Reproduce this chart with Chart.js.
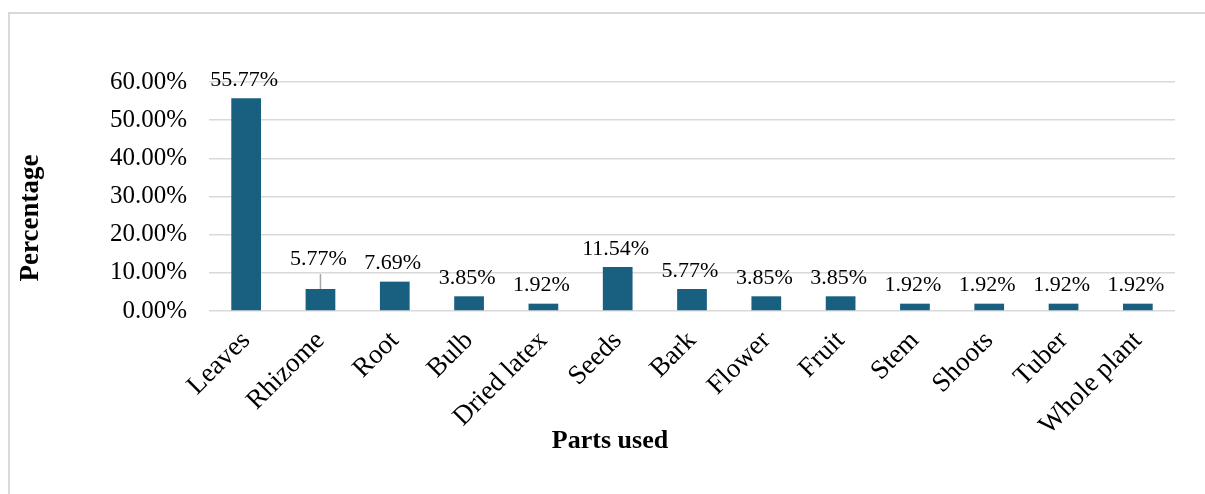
<!DOCTYPE html>
<html>
<head>
<meta charset="utf-8">
<script src="https://cdn.jsdelivr.net/npm/chart.js@4/dist/chart.umd.min.js"></script>
<style>
  html, body { margin: 0; padding: 0; background: #fff; overflow: hidden; }
  #wrap { position: relative; width: 1205px; height: 494px; }
</style>
</head>
<body>
<div id="wrap"><canvas id="chart" width="1205" height="494"></canvas></div>
<script>
const parts = ['Leaves', 'Rhizome', 'Root', 'Bulb', 'Dried latex', 'Seeds', 'Bark',
  'Flower', 'Fruit', 'Stem', 'Shoots', 'Tuber', 'Whole plant'];
const percentages = [55.77, 5.77, 7.69, 3.85, 1.92, 11.54, 5.77, 3.85, 3.85, 1.92, 1.92, 1.92, 1.92];
const yTicks = [0, 10, 20, 30, 40, 50, 60];

const serif = '"Liberation Serif", "Times New Roman", serif';
const barColor = '#185f80';
const gridColor = '#d9d9d9';

// data labels above bars, rhizome one lifted with a leader line (as in Excel)
const barLabels = {
  id: 'barLabels',
  afterDatasetsDraw(chart) {
    const ctx = chart.ctx;
    const meta = chart.getDatasetMeta(0);
    ctx.save();
    ctx.font = '22px ' + serif;
    ctx.fillStyle = '#000';
    ctx.textAlign = 'center';
    ctx.textBaseline = 'bottom';
    meta.data.forEach((bar, i) => {
      const txt = percentages[i].toFixed(2) + '%';
      let y = bar.y - 7;
      if (i === 1) {
        y = bar.y - 19;
        ctx.strokeStyle = '#a6a6a6';
        ctx.lineWidth = 1.5;
        ctx.beginPath();
        ctx.moveTo(bar.x, y + 4);
        ctx.lineTo(bar.x, bar.y);
        ctx.stroke();
      }
      ctx.fillText(txt, bar.x - 2, y);
    });
    ctx.restore();
  }
};

// outer frame + axis titles
const frame = {
  id: 'frame',
  beforeDraw(chart) {
    const ctx = chart.ctx;
    ctx.save();
    ctx.strokeStyle = '#d9d9d9';
    ctx.lineWidth = 2;
    ctx.strokeRect(9, 13, 1300, 600);
    ctx.restore();
  },
  afterDraw(chart) {
    const ctx = chart.ctx;
    ctx.save();
    ctx.fillStyle = '#000';
    ctx.textAlign = 'center';
    ctx.textBaseline = 'middle';
    ctx.font = 'bold 26px ' + serif;
    ctx.fillText('Parts used', 610, 441);
    ctx.translate(31, 218);
    ctx.rotate(-Math.PI / 2);
    ctx.font = 'bold 27px ' + serif;
    ctx.fillText('Percentage', 0, 0);
    ctx.restore();
  }
};

const ctx = document.getElementById('chart').getContext('2d');
const myChart = new Chart(ctx, {
  type: 'bar',
  data: {
    labels: parts,
    datasets: [{
      data: percentages,
      backgroundColor: barColor,
      borderWidth: 0,
      barPercentage: 0.4,
      categoryPercentage: 1.0
    }]
  },
  options: {
    responsive: false,
    animation: false,
    layout: { padding: { left: 14, right: 30, top: 82, bottom: 0 } },
    plugins: {
      legend: { display: false },
      tooltip: { enabled: false }
    },
    scales: {
      x: {
        grid: { display: false, drawTicks: false },
        border: { display: false },
        ticks: {
          color: '#000',
          font: { family: serif, size: 27 },
          minRotation: 45,
          maxRotation: 45,
          padding: 14
        },
        afterFit(scale) { scale.height = 183; }
      },
      y: {
        min: 0,
        max: 60,
        afterBuildTicks(scale) { scale.ticks = yTicks.map(v => ({ value: v })); },
        grid: { color: gridColor, lineWidth: 1.5, drawTicks: false },
        border: { display: false },
        ticks: {
          color: '#000',
          font: { family: serif, size: 25 },
          padding: 22,
          callback: v => v.toFixed(2) + '%'
        },
        afterFit(scale) { scale.width = 195; }
      }
    }
  },
  plugins: [frame, barLabels]
});
</script>
</body>
</html>
